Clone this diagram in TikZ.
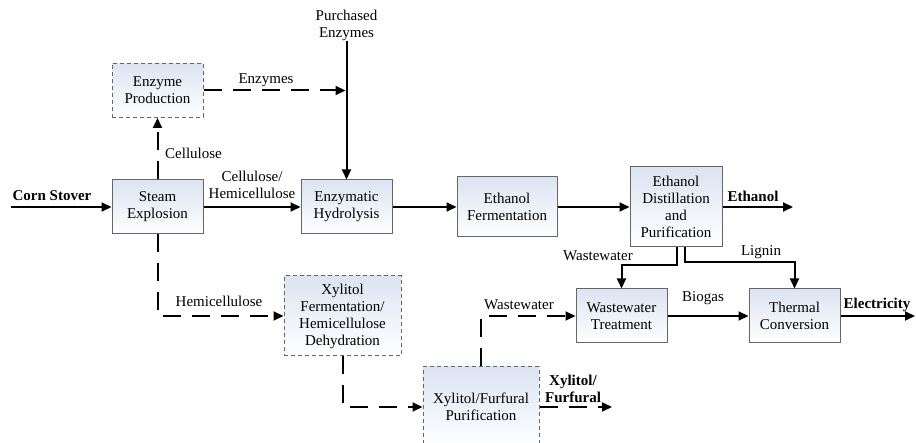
\documentclass[tikz,border=0pt]{standalone}
\usepackage{fontspec}
\setmainfont{Liberation Serif}
\usetikzlibrary{arrows.meta}
\definecolor{boxtop}{HTML}{DCE4F2}
\definecolor{boxline}{HTML}{666666}

\begin{document}
\begin{tikzpicture}[x=1pt,y=-1pt,font=\fontsize{15}{17}\selectfont]
      \tikzstyle{process} = [rectangle, minimum width=91pt, minimum height=54pt, text centered, align=center, draw=boxline, line width=1pt, top color=boxtop, bottom color=white, inner sep=2pt]
      \tikzstyle{optional} = [process, dash pattern=on 4pt off 3pt]
      \tikzstyle{arrow} = [line width=2pt,-{Triangle[length=10pt,width=9pt]}]
      \tikzstyle{sidearrow} = [arrow, dash pattern=on 18pt off 11pt]
      \tikzstyle{flowtext} = [inner sep=0pt, align=center]

      \useasboundingbox (0,0) rectangle (916,443);

      % main ethanol line
      \node (steam) [process] at (157.5,207) {Steam\\Explosion};
      \node (enzhyd) [process] at (346.5,207) {Enzymatic\\Hydrolysis};
      \node (ethferm) [process, minimum width=100pt, minimum height=60pt] at (507,207) {Ethanol\\Fermentation};
      \node (ethdist) [process, minimum width=92pt, minimum height=80pt] at (676,207) {Ethanol\\Distillation\\and\\Purification};
      \node (wwt) [process] at (621.5,316) {Wastewater\\Treatment};
      \node (thermal) [process] at (794.5,316) {Thermal\\Conversion};

      % side routes
      \node (enzprod) [optional] at (157.5,90.5) {Enzyme\\Production};
      \node (xylferm) [optional, minimum width=117pt, minimum height=80pt] at (342.5,316) {Xylitol\\Fermentation/\\Hemicellulose\\Dehydration};
      \node (xylpur) [optional, minimum width=116pt, minimum height=80pt] at (481,407) {Xylitol/Furfural\\Purification};

      \node (buy) [flowtext] at (346.5,25) {Purchased\\Enzymes};
      \node (stover) [flowtext] at (52,196) {\textbf{Corn Stover}};
      \node (ethanol) [flowtext] at (753,196) {\textbf{Ethanol}};
      \node (elec) [flowtext] at (877,305) {\textbf{Electricity}};
      \node (xylitol) [flowtext] at (573,389) {\textbf{Xylitol/}\\\textbf{Furfural}};

      \coordinate (feed) at (11,207);
      \coordinate (ethout) at (793,207);
      \coordinate (elecout) at (915,316);
      \coordinate (xylout) at (612,407);

      \draw [arrow] (feed) -- (steam);
      \draw [arrow] (steam) -- (enzhyd) node [flowtext, pos=0.5, above=7pt] {Cellulose/\\Hemicellulose};
      \draw [arrow] (enzhyd) -- (ethferm);
      \draw [arrow] (ethferm) -- (ethdist);
      \draw [arrow] (ethdist) -- (ethout);
      \draw [arrow] (buy) -- (enzhyd);
      \draw [arrow] ([xshift=1pt]ethdist.south) -- ++(0,18) -| (wwt.north);
      \draw [arrow] ([xshift=9pt]ethdist.south) -- ++(0,15) -| (thermal.north);
      \draw [arrow] (wwt) -- (thermal);
      \draw [arrow] (thermal) -- (elecout);

      \draw [sidearrow] (steam) -- (enzprod);
      \draw [sidearrow, shorten >=1pt] (enzprod) -- (enzprod -| enzhyd);
      \draw [sidearrow] (steam.south) |- (xylferm.west);
      \draw [sidearrow] (xylferm.south) |- (xylpur.west);
      \draw [sidearrow] (xylpur.north) |- (wwt.west);
      \draw [sidearrow] (xylpur.east) -- (xylout);

      % stream names
      \node [flowtext] at (266,80) {Enzymes};
      \node [flowtext] at (193.5,153) {Cellulose};
      \node [flowtext] at (219,301) {Hemicellulose};
      \node [flowtext] at (519,305) {Wastewater};
      \node [flowtext] at (598,256) {Wastewater};
      \node [flowtext] at (761,252) {Lignin};
      \node [flowtext] at (703,298) {Biogas};
\end{tikzpicture}
\end{document}
